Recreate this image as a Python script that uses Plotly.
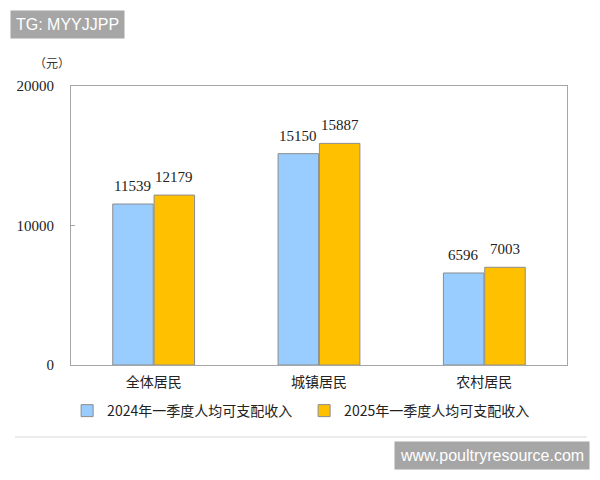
import plotly.graph_objects as go

categories = ["全体居民", "城镇居民", "农村居民"]
series_names = ["2024年一季度人均可支配收入", "2025年一季度人均可支配收入"]
values_2024 = [11539, 15150, 6596]
values_2025 = [12179, 15887, 7003]
y_ticks = [0, 10000, 20000]

colors = ["#99CCFF", "#FFC000"]
serif = "Liberation Serif, DejaVu Serif, serif"
cjk = "Noto Sans CJK SC, sans-serif"

fig = go.Figure()
for name, vals, col in zip(series_names, [values_2024, values_2025], colors):
    fig.add_trace(go.Bar(
        x=categories, y=vals, name=name,
        marker=dict(color=col, line=dict(color="#8c8c8c", width=1)),
        cliponaxis=False,
    ))

# data labels placed above each grouped bar
label_annotations = []
for vals, shift in [(values_2024, -20.7), (values_2025, 20.7)]:
    for cat, v in zip(categories, vals):
        label_annotations.append(dict(
            x=cat, y=v, xref="x", yref="y", text=str(v), showarrow=False,
            xanchor="center", yanchor="bottom", xshift=shift, yshift=8,
            font=dict(family=serif, size=15, color="#222")))

fig.update_layout(
    width=592, height=472,
    margin=dict(l=63, r=33, t=78, b=115, autoexpand=False),
    paper_bgcolor="white", plot_bgcolor="white",
    barmode="group", bargap=0.5, bargroupgap=0.02,
    showlegend=True,
    legend=dict(orientation="h", x=0.47, xanchor="center", y=-0.165, yanchor="middle",
                font=dict(family=cjk, size=14, color="#222"),
                itemwidth=30, entrywidthmode="pixels", entrywidth=192,
                tracegroupgap=0),
    xaxis=dict(showline=True, linecolor="#a6a6a6", linewidth=1, mirror=True,
               tickfont=dict(family=cjk, size=14, color="#222"),
               ticks="", ticklabelstandoff=4),
    yaxis=dict(range=[0, 20000], tickvals=y_ticks, tickformat="d",
               showgrid=False, zeroline=False,
               showline=True, linecolor="#a6a6a6", linewidth=1, mirror=True,
               ticks="inside", ticklen=4, tickcolor="#a6a6a6",
               tickfont=dict(family=serif, size=15, color="#222"),
               ticklabelstandoff=13),
    annotations=label_annotations + [
        dict(text="（元）", xref="paper", yref="paper", x=-0.038, y=1.086,
             xanchor="center", yanchor="middle", showarrow=False,
             font=dict(family=cjk, size=12, color="#333")),
        dict(text="TG: MYYJJPP", xref="paper", yref="paper", x=-0.123, y=1.219,
             xanchor="left", yanchor="middle", showarrow=False,
             bgcolor="#a6a6a6", borderpad=5,
             font=dict(family="Liberation Sans, Arial, sans-serif", size=16, color="white")),
        dict(text="www.poultryresource.com", xref="paper", yref="paper", x=1.046, y=-0.323,
             xanchor="right", yanchor="middle", showarrow=False,
             bgcolor="#a6a6a6", borderpad=5,
             font=dict(family="Liberation Sans, Arial, sans-serif", size=16, color="white")),
    ],
    shapes=[dict(type="line", xref="paper", yref="paper", x0=-0.113, x1=1.04,
                 y0=-0.258, y1=-0.258, line=dict(color="#e6e6e6", width=1.5))],
)

fig.write_html("out.html")
